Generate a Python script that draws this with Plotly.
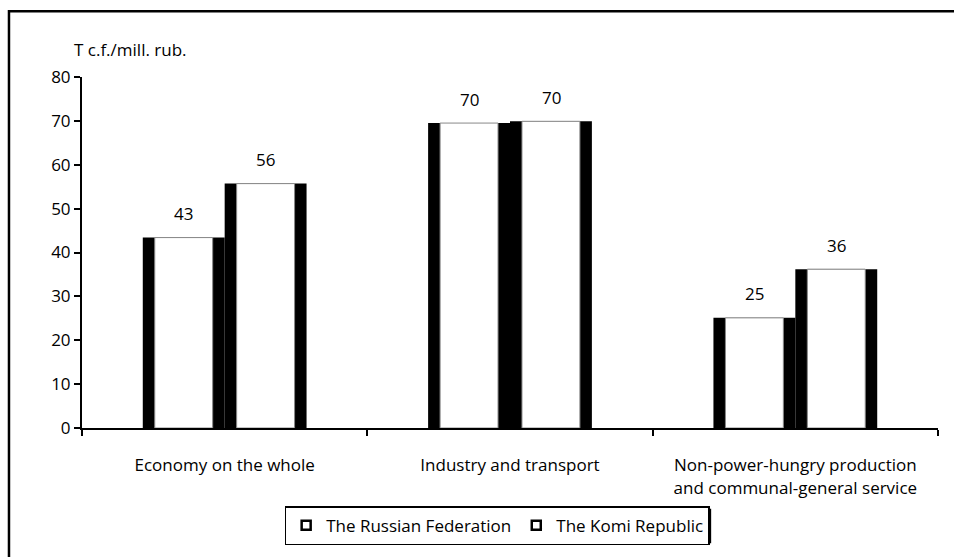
import plotly.graph_objects as go

categories = ["Economy on the whole", "Industry and transport",
              "Non-power-hungry production<br>and communal-general service"]
russia = [43.4, 69.5, 25.1]
komi = [55.7, 69.9, 36.2]
series_names = ["The Russian Federation", "The Komi Republic"]
y_ticks = [0, 10, 20, 30, 40, 50, 60, 70, 80]
y_title = "T c.f./mill. rub."

FONT = "Open Sans"
FS = 17
BW = 0.287      # full bar width (category units)
EDGE = 0.042    # black edge width
INNER = BW - 2 * EDGE
HALF_PX = 41    # half bar width in pixels, for label placement

fig = go.Figure()
for vals, off in [(russia, -BW), (komi, 0.0)]:
    # black body (edges)
    fig.add_trace(go.Bar(
        x=categories, y=vals, width=BW, offset=off,
        marker=dict(color="black", line=dict(width=0)),
        showlegend=False, hoverinfo="skip"))
    # white core
    fig.add_trace(go.Bar(
        x=categories, y=vals, width=INNER, offset=off + EDGE,
        marker=dict(color="white", line=dict(width=1, color="#888888")),
        showlegend=False, hoverinfo="skip"))

for name in series_names:
    fig.add_trace(go.Scatter(
        x=[None], y=[None], mode="markers", name=name,
        marker=dict(symbol="square", size=9, color="white",
                    line=dict(color="black", width=2.5))))

annotations = [
    dict(text=y_title, xref="paper", yref="paper", x=-0.012, y=1.077,
         xanchor="left", yanchor="middle", showarrow=False,
         font=dict(family=FONT, size=FS, color="black")),
]
for vals, sign in [(russia, -1), (komi, 1)]:
    for c, v in zip(categories, vals):
        annotations.append(dict(
            x=c, y=v, xref="x", yref="y", text=f"{v:.0f}", showarrow=False,
            xanchor="center", yanchor="middle", xshift=sign * HALF_PX, yshift=24,
            font=dict(family=FONT, size=FS, color="black")))

fig.update_layout(
    width=954, height=557,
    margin=dict(l=82, r=16, t=77, b=126),
    barmode="overlay",
    paper_bgcolor="white", plot_bgcolor="white",
    font=dict(family=FONT, size=FS, color="black"),
    showlegend=True,
    legend=dict(orientation="h", x=0.485, xanchor="center", y=-0.223, yanchor="top",
                bgcolor="white", bordercolor="black", borderwidth=1.5,
                font=dict(family=FONT, size=FS, color="black"),
                itemwidth=30),
    xaxis=dict(showline=True, linecolor="black", linewidth=2,
               ticks="outside", tickson="boundaries", ticklen=6, tickwidth=1.5,
               tickcolor="black", showgrid=False, ticklabelstandoff=21,
               tickfont=dict(family=FONT, size=FS)),
    yaxis=dict(range=[0, 80], tickvals=y_ticks, showline=True, linecolor="black",
               linewidth=2, ticks="outside", ticklen=6, tickwidth=1.5,
               tickcolor="black", showgrid=False, zeroline=False,
               tickfont=dict(family=FONT, size=FS)),
    shapes=[
        # outer chart border
        dict(type="rect", xref="paper", yref="paper",
             x0=-0.0853, x1=1.03, y0=-0.40, y1=1.187,
             line=dict(color="black", width=2.5), fillcolor="rgba(0,0,0,0)"),
        # legend shadow
        dict(type="rect", xref="paper", yref="paper",
             x0=0.2453, x1=0.735, y0=-0.328, y1=-0.230,
             line=dict(width=0), fillcolor="black", layer="below"),
    ],
    annotations=annotations,
)

fig.write_html("out.html", config={"displayModeBar": False},
               post_script="document.body.style.margin='0';")
